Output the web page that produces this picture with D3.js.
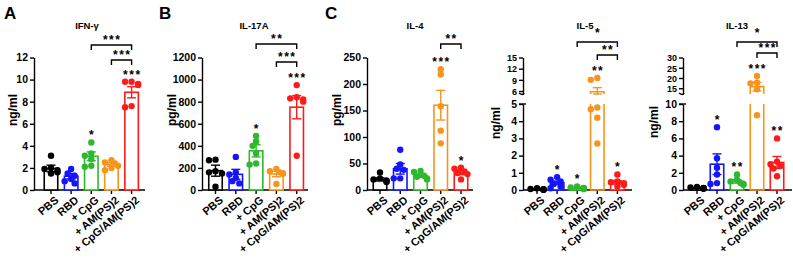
<!DOCTYPE html>
<html>
<head>
<meta charset="utf-8">
<script src="https://cdn.jsdelivr.net/npm/d3@7"></script>
<style>
  body { margin: 0; background: #fff; }
  svg { font-family: "Liberation Sans", Arial, sans-serif; }
</style>
</head>
<body>
<div id="chartVis"></div>
<script>
// groups and colours shared by every panel
const groups = ["PBS", "RBD", "+ CpG", "+ AM(PS)2", "+ CpG/AM(PS)2"];
const groupColors = ["#000000", "#1414ff", "#2eb82e", "#f7941d", "#ff1a1a"];

// IFN-gamma (ng/ml)
const ifngPoints = [[3.1, 2.0, 1.8, 1.6, 1.5, 1.9], [1.9, 1.5, 1.3, 1.0, 0.8, 0.6], [4.3, 3.3, 3.1, 2.8, 2.2, 2.1], [2.7, 2.5, 2.4, 2.2, 2.0, 1.8], [9.8, 9.8, 9.6, 9.5, 7.6, 7.5]];
const ifngMean = [1.95, 1.25, 3.05, 2.3, 8.85];
const ifngSem = [0.3, 0.25, 0.4, 0.15, 0.5];
const ifngTicks = [0, 2, 4, 6, 8, 10, 12];
const ifngStars = ["", "", "*", "", "***"];
const ifngBrackets = [[3, 4, "***"], [2, 4, "***"]];

// IL-17A (pg/ml)
const il17Points = [[275, 270, 170, 150, 30, 160], [300, 160, 140, 110, 60, 80], [490, 440, 400, 330, 230, 240], [190, 170, 160, 150, 150, 55], [950, 840, 830, 820, 800, 310]];
const il17Mean = [175, 142, 355, 145, 750];
const il17Sem = [50, 45, 55, 25, 105];
const il17Ticks = [0, 200, 400, 600, 800, 1000, 1200];
const il17Stars = ["", "", "*", "", "***"];
const il17Brackets = [[3, 4, "***"], [2, 4, "**"]];

// IL-4 (pg/ml)
const il4Points = [[33, 22, 20, 18, 17, 15], [76, 48, 40, 38, 22, 22], [36, 34, 27, 25, 22, 20], [228, 218, 158, 112, 88], [42, 40, 35, 32, 30, 20]];
const il4Mean = [20, 40, 27, 160, 33];
const il4Sem = [3, 10, 3, 28, 4];
const il4Ticks = [0, 50, 100, 150, 200, 250];
const il4Stars = ["", "", "", "***", "*"];
const il4Brackets = [[3, 4, "**"]];

// IL-5 (ng/ml), broken axis
const il5Points = [[0.1, 0.06, 0.05, 0.03, 0.02, 0.02], [0.75, 0.6, 0.5, 0.35, 0.2, 0.1], [0.2, 0.15, 0.12, 0.1, 0.1, 0.05], [9.5, 9.0, 4.8, 4.7, 4.2, 2.7], [0.9, 0.5, 0.45, 0.4, 0.3, 0.2]];
const il5Mean = [0.05, 0.42, 0.12, 5.8, 0.45];
const il5Sem = [0.01, 0.1, 0.03, 1.1, 0.1];
const il5Ticks = [0, 1, 2, 3, 4, 5];
const il5TicksHigh = [6, 9, 12, 15];
const il5Stars = ["", "*", "*", "**", "*"];
const il5Brackets = [[3, 4, "**"], [2, 4, "*"]];

// IL-13 (ng/ml), broken axis
const il13Points = [[0.35, 0.3, 0.25, 0.2, 0.2, 0.15], [7.3, 3.7, 2.6, 1.8, 0.8, 0.7], [1.8, 1.2, 1.0, 0.8, 0.7, 0.6], [21, 17.7, 17.4, 14.5, 8.7], [6.0, 3.3, 3.0, 2.8, 2.5, 1.6]];
const il13Mean = [0.25, 3.0, 1.0, 15.8, 3.2];
const il13Sem = [0.03, 1.2, 0.2, 2.1, 0.7];
const il13Ticks = [0, 2, 4, 6, 8, 10];
const il13TicksHigh = [15, 20, 25, 30];
const il13Stars = ["", "*", "**", "***", "**"];
const il13Brackets = [[3, 4, "***"], [2, 4, "*"]];

var width = 793;
var height = 258;
var plotTop = 57.5, plotBottom = 190;
var lowTop = 104, highBottom = 94;   // pixel ends of the two segments of a broken axis
var barWidth = 13.5, dotR = 3.2;

var svg = d3.select("#chartVis")
  .append("svg")
  .attr("width", width)
  .attr("height", height);

var panels = [
  { title: "IFN-γ", unit: "ng/ml", letter: "A", letterX: 4, points: ifngPoints, mean: ifngMean, sem: ifngSem, ticks: ifngTicks, max: 12,
    stars: ifngStars, brackets: ifngBrackets, bracketY: [60, 45], axisX: 34, first: 51, step: 20.15, axisEnd: 145, titleX: 87, labelX: 13, labelY: 110 },
  { title: "IL-17A", unit: "pg/ml", letter: "B", letterX: 159, points: il17Points, mean: il17Mean, sem: il17Sem, ticks: il17Ticks, max: 1200,
    stars: il17Stars, brackets: il17Brackets, bracketY: [62, 44], axisX: 202, first: 215.5, step: 20.3, axisEnd: 308, titleX: 254, labelX: 172, labelY: 110 },
  { title: "IL-4", unit: "pg/ml", letter: "C", letterX: 325, points: il4Points, mean: il4Mean, sem: il4Sem, ticks: il4Ticks, max: 250,
    stars: il4Stars, brackets: il4Brackets, bracketY: [44], axisX: 367, first: 380, step: 20.25, axisEnd: 473, titleX: 415, labelX: 337, labelY: 110 },
  { title: "IL-5", unit: "ng/ml", letter: "", points: il5Points, mean: il5Mean, sem: il5Sem, ticks: il5Ticks, ticksHigh: il5TicksHigh,
    breakAt: [5, 5.2], max: 15, stars: il5Stars, brackets: il5Brackets, bracketY: [55, 42], axisX: 523, first: 537, step: 20.1, axisEnd: 632, titleX: 585, labelX: 496, labelY: 123 },
  { title: "IL-13", unit: "ng/ml", letter: "", points: il13Points, mean: il13Mean, sem: il13Sem, ticks: il13Ticks, ticksHigh: il13TicksHigh,
    breakAt: [10, 12.2], max: 30, stars: il13Stars, brackets: il13Brackets, bracketY: [53, 42], axisX: 683, first: 697, step: 20, axisEnd: 792, titleX: 737, labelX: 654, labelY: 122 }
];

panels.forEach(drawPanel);

function styleAxis(sel, fontSize) {
  sel.select(".domain").attr("stroke", "#000").attr("stroke-width", 1.4);
  sel.selectAll(".tick line").attr("stroke", "#000").attr("stroke-width", 1.4);
  sel.selectAll(".tick text").attr("font-size", fontSize).attr("font-weight", "bold").attr("fill", "#000");
}

// spread the dots of one group sideways so they do not sit on top of each other
function swarm(values, y) {
  let placed = [];
  let order = values.map((v, i) => i).sort((a, b) => values[b] - values[a]);
  let offsets = [0, -3.5, 3.5, -6.5, 6.5];
  let res = new Array(values.length);
  for (let i of order) {
    let py = y(values[i]);
    for (let o of offsets) {
      let ok = placed.every(q => Math.hypot(q[0] - o, q[1] - py) >= dotR * 1.5);
      if (ok || o === offsets[offsets.length - 1]) {
        placed.push([o, py]);
        res[i] = [o, py];
        break;
      }
    }
  }
  return res;
}

function starText(g, cx, cy, label) {
  g.append("text")
    .attr("x", cx + 0.75).attr("y", cy + 6.8)
    .attr("text-anchor", "middle")
    .attr("font-size", 12)
    .attr("font-weight", "bold")
    .attr("letter-spacing", 1.5)
    .text(label);
}

function drawPanel(p) {
  let g = svg.append("g");
  let x = d3.scalePoint().domain(groups).range([p.first, p.first + 4 * p.step]);

  let yLow, yHigh, y;
  if (p.breakAt) {
    yLow = d3.scaleLinear().domain([0, p.breakAt[0]]).range([plotBottom, lowTop]);
    yHigh = d3.scaleLinear().domain([p.breakAt[1], p.max]).range([highBottom, plotTop]);
    y = (v) => v <= p.breakAt[0] ? yLow(v) : yHigh(Math.max(v, p.breakAt[1]));
  } else {
    yLow = d3.scaleLinear().domain([0, p.max]).range([plotBottom, plotTop]);
    y = yLow;
  }

  // y axis
  g.append("g")
    .attr("transform", "translate(" + p.axisX + ",0)")
    .call(d3.axisLeft(yLow).tickValues(p.ticks).tickFormat(d3.format("d")).tickSize(4).tickSizeOuter(0).tickPadding(2))
    .call(styleAxis, 10.5);
  if (p.breakAt) {
    // upper segment: labels sit close together, so a tighter font
    g.append("g")
      .attr("transform", "translate(" + p.axisX + ",0)")
      .call(d3.axisLeft(yHigh).tickValues(p.ticksHigh).tickFormat(d3.format("d")).tickSize(4).tickSizeOuter(0).tickPadding(2))
      .call(styleAxis, 9)
      .selectAll(".tick text").attr("dy", "0.36em");
    // break marks
    g.append("path")
      .attr("d", "M" + (p.axisX - 4) + "," + (highBottom - 1) + " Q" + p.axisX + "," + (highBottom + 2) + " " + (p.axisX + 1) + "," + (highBottom - 1))
      .attr("fill", "none").attr("stroke", "#000").attr("stroke-width", 1.4);
    g.append("line")
      .attr("x1", p.axisX - 4).attr("x2", p.axisX + 3)
      .attr("y1", lowTop).attr("y2", lowTop)
      .attr("stroke", "#000").attr("stroke-width", 1.4);
  }

  // x axis
  g.append("line")
    .attr("x1", p.axisX).attr("x2", p.axisEnd)
    .attr("y1", plotBottom).attr("y2", plotBottom)
    .attr("stroke", "#000").attr("stroke-width", 1.4);
  g.append("g").selectAll("line").data(groups).enter()
    .append("line")
    .attr("x1", d => x(d)).attr("x2", d => x(d))
    .attr("y1", plotBottom).attr("y2", plotBottom + 4)
    .attr("stroke", "#000").attr("stroke-width", 1.4);
  g.append("g").selectAll("text").data(groups).enter()
    .append("text")
    .attr("transform", d => "translate(" + (x(d) + 3) + "," + (plotBottom + 5) + ") rotate(-40)")
    .attr("text-anchor", "end")
    .attr("dy", "0.75em")
    .attr("font-size", 11)
    .attr("font-weight", "bold")
    .text(d => d);

  // bars, error bars and dots
  groups.forEach((grp, i) => {
    let cx = x(grp);
    let col = groupColors[i];
    let m = p.mean[i], s = p.sem[i];
    let x0 = cx - barWidth / 2, x1 = cx + barWidth / 2;
    if (p.breakAt && m > p.breakAt[0]) {
      g.append("path")
        .attr("d", "M" + x0 + "," + lowTop + " L" + x0 + "," + plotBottom + " L" + x1 + "," + plotBottom + " L" + x1 + "," + lowTop)
        .attr("fill", "none").attr("stroke", col).attr("stroke-width", 1.6);
      g.append("path")
        .attr("d", "M" + x0 + "," + highBottom + " L" + x0 + "," + y(m) + " L" + x1 + "," + y(m) + " L" + x1 + "," + highBottom)
        .attr("fill", "none").attr("stroke", col).attr("stroke-width", 1.6);
    } else {
      g.append("rect")
        .attr("x", x0).attr("y", y(m))
        .attr("width", barWidth).attr("height", plotBottom - y(m))
        .attr("fill", "#fff").attr("stroke", col).attr("stroke-width", 1.6);
    }

    let lo = m - s;
    if (p.breakAt && m > p.breakAt[0]) lo = Math.max(lo, p.breakAt[1]);
    g.append("line")
      .attr("x1", cx).attr("x2", cx)
      .attr("y1", y(lo)).attr("y2", y(m + s))
      .attr("stroke", col).attr("stroke-width", 1.4);
    [m + s, lo].forEach(v => {
      g.append("line")
        .attr("x1", cx - 4.5).attr("x2", cx + 4.5)
        .attr("y1", y(v)).attr("y2", y(v))
        .attr("stroke", col).attr("stroke-width", 1.4);
    });

    let pos = swarm(p.points[i], y);
    g.append("g").selectAll("circle").data(pos).enter()
      .append("circle")
      .attr("cx", d => cx + d[0])
      .attr("cy", d => d[1])
      .attr("r", dotR)
      .attr("fill", col);

    if (p.stars[i]) {
      let topY = Math.min(y(d3.max(p.points[i])), y(m + s));
      starText(g, cx, topY - 10, p.stars[i]);
    }
  });

  // comparison brackets
  p.brackets.forEach((b, k) => {
    let by = p.bracketY[k];
    let xa = x(groups[b[0]]), xb = x(groups[b[1]]);
    g.append("path")
      .attr("d", "M" + xa + "," + (by + 5) + " L" + xa + "," + by + " L" + xb + "," + by + " L" + xb + "," + (by + 5))
      .attr("fill", "none").attr("stroke", "#000").attr("stroke-width", 1.4);
    let ly = b[2] === "*" ? by - 12 : by - 8;
    starText(g, (xa + xb) / 2, ly, b[2]);
  });

  // titles and labels
  g.append("text")
    .attr("x", p.titleX).attr("y", 29)
    .attr("text-anchor", "middle")
    .attr("font-size", 9.5)
    .attr("font-weight", "bold")
    .text(p.title);

  g.append("text")
    .attr("transform", "translate(" + (p.labelX + 4) + "," + p.labelY + ") rotate(-90)")
    .attr("text-anchor", "middle")
    .attr("font-size", 12)
    .attr("font-weight", "bold")
    .text(p.unit);

  if (p.letter) {
    g.append("text")
      .attr("x", p.letterX).attr("y", 19)
      .attr("font-size", 17)
      .attr("font-weight", "bold")
      .text(p.letter);
  }
}
</script>
</body>
</html>
